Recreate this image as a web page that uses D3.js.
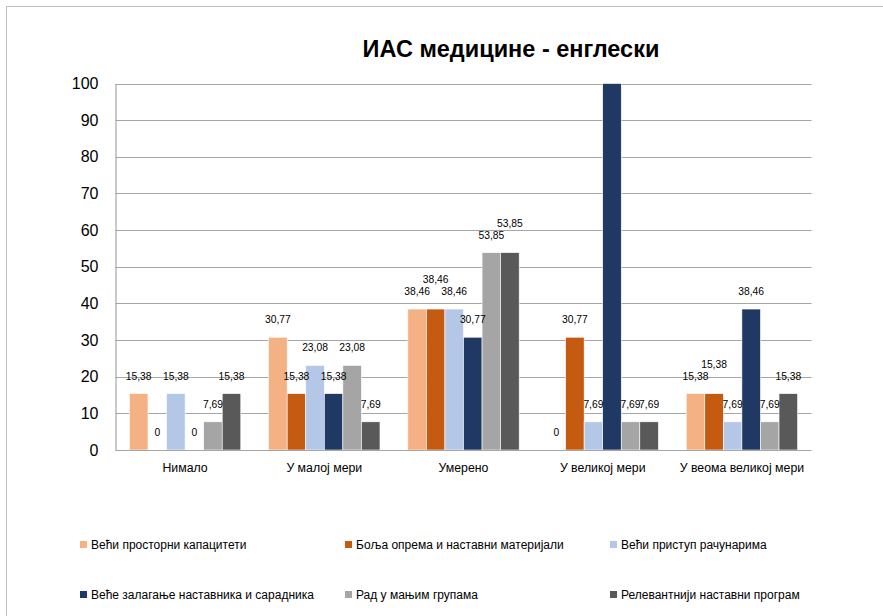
<!DOCTYPE html>
<html><head><meta charset="utf-8">
<script src="https://cdn.jsdelivr.net/npm/d3@7"></script>
<style>body{margin:0;background:#fff}svg{display:block}</style>
</head><body>
<svg id="c" width="883" height="616"></svg>
<script>
const title = "ИАС медицине - енглески";
const categories = ["Нимало", "У малој мери", "Умерено", "У великој мери", "У веома великој мери"];
const seriesNames = ["Већи просторни капацитети", "Боља опрема и наставни материјали", "Већи приступ рачунарима",
  "Веће залагање наставника и сарадника", "Рад у мањим групама", "Релевантнији наставни програм"];
const s1 = [15.38, 30.77, 38.46, 0, 15.38];
const s2 = [0, 15.38, 38.46, 30.77, 15.38];
const s3 = [15.38, 23.08, 38.46, 7.69, 7.69];
const s4 = [0, 15.38, 30.77, 100, 38.46];
const s5 = [7.69, 23.08, 53.85, 7.69, 7.69];
const s6 = [15.38, 7.69, 53.85, 7.69, 15.38];
const seriesValues = [s1, s2, s3, s4, s5, s6];
const colors = ["#F4B183", "#C55A11", "#B4C7E7", "#203864", "#A5A5A5", "#595959"];
const yTicks = [0, 10, 20, 30, 40, 50, 60, 70, 80, 90, 100];

const svg = d3.select("#c");
const font = "'Liberation Sans', Arial, sans-serif";

// chart border
svg.append("rect").attr("x", 6.5).attr("y", 6.5).attr("width", 1200).attr("height", 1200)
  .attr("fill", "none").attr("stroke", "#BFBFBF").attr("stroke-width", 1);

const plot = {left: 115.5, right: 811.5, top: 83.5, bottom: 450};
const x = d3.scaleBand().domain(categories).range([plot.left, plot.right]).paddingInner(0).paddingOuter(0);
const y = d3.scaleLinear().domain([0, 100]).range([plot.bottom, plot.top]);
const gw = x.bandwidth();
const barW = gw / 7.5;
const x1 = d3.scaleBand().domain(d3.range(6)).range([barW * 0.75, gw - barW * 0.75]).padding(0);

// title
svg.append("text").attr("x", 511).attr("y", 57).attr("text-anchor", "middle")
  .attr("font-family", font).attr("font-weight", "bold").attr("font-size", 23.5).attr("fill", "#000")
  .text(title);

// gridlines
svg.append("g").selectAll("line").data(yTicks.filter(d => d > 0)).join("line")
  .attr("x1", plot.left).attr("x2", plot.right)
  .attr("y1", d => Math.round(y(d)) + 0.5).attr("y2", d => Math.round(y(d)) + 0.5)
  .attr("stroke", "#A6A6A6").attr("stroke-width", 1.2);

// y axis
const yAxis = svg.append("g").attr("transform", `translate(${plot.left},0)`)
  .call(d3.axisLeft(y).tickValues(yTicks).tickSize(0).tickPadding(17));
yAxis.select(".domain").attr("stroke", "#A6A6A6").attr("stroke-width", 1.2);
yAxis.selectAll("text").attr("font-family", font).attr("font-size", 16).attr("fill", "#000");

// bars
const groups = svg.append("g").selectAll("g").data(categories).join("g")
  .attr("transform", d => `translate(${x(d)},0)`);
groups.selectAll("rect").data((c, ci) => seriesValues.map((vals, si) => ({si, v: vals[ci]}))).join("rect")
  .attr("x", d => x1(d.si)).attr("width", x1.bandwidth())
  .attr("y", d => y(d.v)).attr("height", d => y(0) - y(d.v))
  .attr("fill", d => colors[d.si]).attr("stroke", "#fff").attr("stroke-width", d => d.v > 0 ? 0.6 : 0);

// x axis line
svg.append("line").attr("x1", plot.left).attr("x2", plot.right)
  .attr("y1", plot.bottom + 0.5).attr("y2", plot.bottom + 0.5).attr("stroke", "#A6A6A6").attr("stroke-width", 1.2);

// category labels
svg.append("g").selectAll("text").data(categories).join("text")
  .attr("x", d => x(d) + gw / 2).attr("y", 472).attr("text-anchor", "middle")
  .attr("font-family", font).attr("font-size", 12.3).attr("fill", "#000").text(d => d);

// data labels with simple collision avoidance
const fmt = v => String(v).replace(".", ",");
const lblG = svg.append("g");
categories.forEach((c, ci) => {
  const placed = [];
  seriesValues.forEach((vals, si) => {
    const v = vals[ci];
    if (v >= 100) return;
    const cx = x(c) + x1(si) + x1.bandwidth() / 2;
    const t = fmt(v);
    const w = t.length * 5.3;
    let ly = y(v) - 14;
    let moved = true;
    while (moved) {
      moved = false;
      for (const p of placed) {
        const hov = Math.min(cx + w / 2, p.cx + p.w / 2) - Math.max(cx - w / 2, p.cx - p.w / 2);
        if (hov > 7 && Math.abs(ly - p.y) < 11) { ly = p.y - 12; moved = true; }
      }
    }
    placed.push({cx, w, y: ly});
    lblG.append("text").attr("x", cx).attr("y", ly).attr("text-anchor", "middle")
      .attr("font-family", font).attr("font-size", 10.3).attr("fill", "#000").text(t);
  });
});

// legend
const legendX = [80, 345, 610];
const legendY = [545, 595];
const leg = svg.append("g").selectAll("g").data(seriesNames).join("g")
  .attr("transform", (d, i) => `translate(${legendX[i % 3]},${legendY[Math.floor(i / 3)]})`);
leg.append("rect").attr("x", 0).attr("y", -4).attr("width", 7).attr("height", 7).attr("fill", (d, i) => colors[i]);
leg.append("text").attr("x", 11).attr("y", 4).attr("font-family", font).attr("font-size", 12)
  .attr("fill", "#000").text(d => d);
</script>
</body></html>
